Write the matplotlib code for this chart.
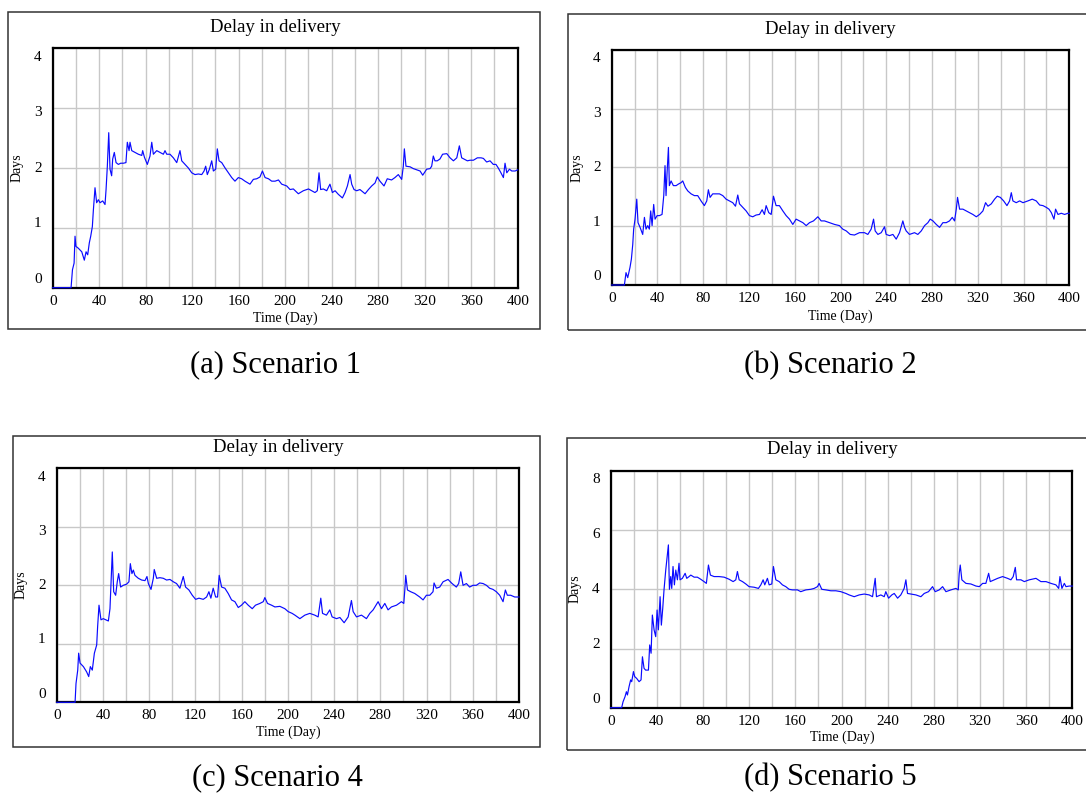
import matplotlib
matplotlib.use("Agg")
import matplotlib.pyplot as plt
from matplotlib.patches import Rectangle
from matplotlib.ticker import MultipleLocator

plt.rcParams['font.family'] = ['Liberation Serif', 'DejaVu Serif']

W, H = 1086, 797

# (day, delay in days)
s1_points = [
    (0, 0), (15.8, 0), (17, 0.3), (18.4, 0.41), (19.2, 0.86), (20, 0.69), (22, 0.66), (25, 0.6),
    (27.2, 0.46), (28.7, 0.6), (30.1, 0.55), (31.5, 0.75), (32.7, 0.86), (34.1, 1.02), (35, 1.3),
    (36.4, 1.67), (37.8, 1.42), (39.3, 1.47), (40.7, 1.42), (43, 1.45), (45, 1.39), (45.9, 1.64),
    (47, 2.03), (48.2, 2.59), (49.3, 1.98), (50.7, 1.87), (51.6, 2.15), (53, 2.26), (54.5, 2.09),
    (56.5, 2.06), (58.5, 2.08), (60.8, 2.08), (63, 2.09), (64.2, 2.43), (65.7, 2.29), (66.5, 2.43),
    (68, 2.29), (70.8, 2.26), (73.7, 2.23), (76.6, 2.21), (77.4, 2.29), (78.9, 2.18), (81.4, 2.06),
    (83.7, 2.2), (85.2, 2.43), (86.6, 2.23), (89.5, 2.29), (92.3, 2.26), (95.2, 2.23), (96.6, 2.29),
    (98.1, 2.23), (100.9, 2.23), (103.8, 2.17), (106.7, 2.09), (109.5, 2.29), (111, 2.12),
    (113.8, 2.06), (116.7, 2.0), (119.6, 1.92), (122.4, 1.89), (125.3, 1.9), (128.2, 1.89),
    (130.2, 1.95), (131.6, 2.03), (133, 1.89), (134.8, 1.98), (136.8, 2.12), (138.2, 1.95),
    (140.2, 1.98), (141.6, 2.32), (143.1, 2.12), (145.4, 2.09), (148.3, 2.0), (151.1, 1.92),
    (154, 1.84), (156.8, 1.78), (159.7, 1.84), (162.5, 1.82), (165.4, 1.78), (169.7, 1.73),
    (172.6, 1.81), (175.5, 1.82), (178.3, 1.85), (180.4, 1.95), (182.7, 1.84), (185.6, 1.82),
    (188.4, 1.78), (191.3, 1.78), (194.2, 1.8), (197, 1.73), (201.3, 1.7), (204.2, 1.64),
    (207, 1.65), (211.3, 1.57), (215.6, 1.62), (220, 1.65), (222.8, 1.62), (225.6, 1.59),
    (227.6, 1.62), (229.1, 1.92), (230.5, 1.64), (232.8, 1.65), (235.7, 1.62), (238.5, 1.73),
    (240.6, 1.59), (242.9, 1.62), (245.7, 1.56), (249.2, 1.5), (251.5, 1.59), (253.5, 1.7),
    (255.8, 1.89), (257.2, 1.73), (259.2, 1.64), (261.5, 1.62), (264.3, 1.64), (268.7, 1.57),
    (271.6, 1.64), (274.4, 1.7), (277.3, 1.75), (279.2, 1.85), (281.5, 1.78), (285, 1.7),
    (287.8, 1.82), (291.5, 1.8), (294.4, 1.84), (297.3, 1.89), (300.2, 1.81), (301.6, 2.03),
    (302.5, 2.32), (303.9, 2.03), (307.4, 2.02), (310.2, 1.99), (313.1, 1.97), (316, 1.95),
    (318.3, 1.88), (321.7, 1.98), (324.6, 1.99), (326, 2.03), (327.4, 2.2), (328.8, 2.12),
    (330.8, 2.12), (333.1, 2.15), (335.4, 2.23), (339, 2.24), (341.8, 2.17), (344.7, 2.12),
    (347.6, 2.17), (349.8, 2.37), (351.8, 2.17), (354.7, 2.14), (356.7, 2.12), (359, 2.13),
    (361.9, 2.13), (365.3, 2.17), (368.5, 2.17), (370.5, 2.16), (373.3, 2.1), (376.2, 2.12),
    (379, 2.06), (381.3, 2.06), (383.3, 2.0), (385.3, 1.93), (387.7, 1.84), (389.1, 2.08),
    (390.6, 1.92), (392.9, 1.98), (394.9, 1.95), (397.8, 1.95), (400, 1.97),
]

s2_points = [
    (0, 0), (11.1, 0), (12.5, 0.21), (14.0, 0.125), (16.0, 0.3), (17.2, 0.44), (18.4, 0.69),
    (19.2, 0.95), (20.4, 1.12), (21.9, 1.46), (23.0, 1.06), (24.8, 0.98), (27.1, 0.86), (28.6, 1.15),
    (30.0, 0.95), (31.5, 1.01), (32.9, 0.95), (34.1, 1.26), (35.3, 1.01), (36.7, 1.37), (37.9, 1.12),
    (39.7, 1.18), (41.7, 1.18), (44.0, 1.2), (45.5, 1.52), (46.6, 2.03), (47.5, 1.52), (48.4, 1.91),
    (49.6, 2.34), (50.4, 1.69), (51.9, 1.77), (53.9, 1.69), (56.3, 1.69), (58.6, 1.72), (60.6, 1.74),
    (62.1, 1.77), (64.4, 1.66), (66.5, 1.6), (69.4, 1.55), (72.3, 1.52), (75.2, 1.52), (78.1, 1.43),
    (81.0, 1.35), (83.1, 1.43), (84.5, 1.62), (86.0, 1.49), (88.3, 1.55), (91.3, 1.55), (94.2, 1.55),
    (97.1, 1.52), (100.0, 1.46), (102.9, 1.43), (105.8, 1.4), (108.2, 1.34), (110.2, 1.53),
    (111.7, 1.38), (114.6, 1.32), (117.5, 1.26), (120.4, 1.18), (123.3, 1.16), (126.2, 1.19),
    (129.2, 1.2), (131.5, 1.28), (133.5, 1.2), (135.0, 1.35), (137.3, 1.23), (139.4, 1.2),
    (141.4, 1.51), (143.7, 1.35), (146.6, 1.35), (149.6, 1.26), (152.5, 1.18), (155.4, 1.12),
    (158.3, 1.03), (161.2, 1.12), (164.1, 1.09), (167.1, 1.06), (170.0, 1.01), (172.9, 1.06),
    (176.4, 1.09), (180.2, 1.16), (183.1, 1.09), (186.0, 1.09), (190.4, 1.06), (194.8, 1.03),
    (199.1, 1.01), (202.0, 0.95), (205.0, 0.92), (208.5, 0.86), (212.2, 0.85), (216.6, 0.89),
    (221.0, 0.89), (223.9, 0.86), (226.8, 0.95), (228.9, 1.12), (230.3, 0.92), (232.7, 0.86),
    (235.6, 0.89), (238.5, 0.99), (239.9, 0.86), (242.9, 0.84), (245.8, 0.86), (248.7, 0.78),
    (251.6, 0.89), (254.5, 1.09), (256.0, 0.98), (257.4, 0.92), (260.3, 0.86), (264.7, 0.89),
    (267.6, 0.86), (270.6, 0.92), (273.5, 1.01), (276.4, 1.06), (278.4, 1.12), (280.8, 1.09),
    (283.7, 1.03), (286.6, 0.98), (289.5, 1.06), (292.4, 1.06), (295.3, 1.09), (297.7, 1.15),
    (299.7, 1.09), (301.2, 1.29), (302.3, 1.49), (304.1, 1.29), (307.0, 1.29), (309.9, 1.26),
    (312.8, 1.23), (315.7, 1.2), (318.7, 1.16), (321.6, 1.2), (324.5, 1.26), (326.8, 1.4),
    (328.9, 1.34), (331.8, 1.38), (334.7, 1.46), (337.0, 1.51), (339.7, 1.49), (342.6, 1.43),
    (345.5, 1.35), (347.8, 1.43), (349.3, 1.57), (350.7, 1.43), (353.6, 1.4), (356.6, 1.43),
    (359.5, 1.4), (363.8, 1.43), (367.6, 1.46), (371.1, 1.43), (374.1, 1.36), (377.0, 1.35),
    (379.9, 1.32), (382.2, 1.29), (384.3, 1.23), (386.6, 1.12), (388.0, 1.29), (390.1, 1.2),
    (393.0, 1.22), (395.9, 1.2), (398.8, 1.22), (400, 1.22),
]

s4_points = [
    (0, 0), (15.9, 0), (16.7, 0.32), (18.2, 0.55), (19.0, 0.84), (20.2, 0.67), (23.1, 0.61),
    (25.9, 0.52), (27.7, 0.44), (29.1, 0.61), (30.8, 0.55), (32.6, 0.84), (34.6, 0.98), (35.4, 1.29),
    (36.6, 1.66), (38.3, 1.41), (40.3, 1.43), (42.4, 1.41), (44.7, 1.39), (46.1, 1.6), (47.0, 2.03),
    (48.1, 2.57), (49.3, 1.89), (51.0, 1.83), (52.4, 2.06), (53.6, 2.2), (55.3, 1.97), (57.6, 2.0),
    (60.5, 2.02), (62.5, 2.06), (63.7, 2.37), (65.1, 2.2), (66.3, 2.26), (67.7, 2.17), (70.6, 2.12),
    (73.5, 2.09), (76.4, 2.08), (78.1, 2.15), (79.3, 2.03), (81.6, 1.93), (83.6, 2.12), (84.4, 2.27),
    (86.5, 2.12), (89.3, 2.13), (92.2, 2.12), (95.1, 2.09), (98.0, 2.1), (100.9, 2.06), (103.7, 2.03),
    (106.6, 1.95), (109.5, 2.15), (111.5, 1.97), (114.4, 1.92), (117.3, 1.83), (120.2, 1.76),
    (123.1, 1.78), (126.8, 1.76), (129.7, 1.8), (131.7, 1.89), (133.4, 1.78), (135.4, 1.95),
    (137.5, 1.8), (139.2, 1.8), (140.6, 2.17), (142.7, 1.97), (145.5, 1.95), (148.4, 1.86),
    (151.3, 1.75), (154.2, 1.72), (157.1, 1.62), (159.9, 1.66), (162.8, 1.72), (165.7, 1.66),
    (169.2, 1.6), (172.0, 1.66), (175.8, 1.69), (178.7, 1.72), (180.1, 1.79), (182.4, 1.69),
    (185.9, 1.66), (188.8, 1.63), (193.1, 1.64), (197.4, 1.6), (200.3, 1.55), (203.7, 1.52),
    (206.1, 1.49), (210.4, 1.43), (214.7, 1.49), (219.0, 1.52), (223.3, 1.49), (226.2, 1.46),
    (228.5, 1.78), (230.0, 1.52), (233.4, 1.49), (236.3, 1.58), (238.3, 1.46), (242.1, 1.43),
    (245.0, 1.45), (248.7, 1.36), (252.2, 1.46), (255.0, 1.74), (256.5, 1.55), (259.4, 1.46),
    (263.7, 1.49), (268.0, 1.43), (270.9, 1.52), (273.8, 1.58), (278.1, 1.72), (281.0, 1.6),
    (283.9, 1.69), (286.7, 1.58), (289.6, 1.63), (294.0, 1.66), (298.3, 1.72), (300.3, 1.69),
    (301.2, 1.92), (302.0, 2.17), (303.5, 1.92), (306.3, 1.89), (309.8, 1.86), (314.1, 1.8),
    (317.0, 1.75), (319.9, 1.83), (322.8, 1.83), (325.6, 1.89), (326.5, 2.04), (328.5, 1.95),
    (331.4, 1.97), (334.3, 2.06), (338.6, 2.1), (342.1, 2.03), (345.8, 1.97), (347.8, 2.03),
    (349.6, 2.23), (351.6, 2.0), (354.5, 2.03), (357.3, 1.97), (360.2, 2.0), (363.1, 2.0),
    (366.0, 2.04), (368.9, 2.03), (371.8, 2.0), (374.6, 1.95), (377.5, 1.93), (380.4, 1.89),
    (383.3, 1.83), (386.2, 1.72), (388.2, 1.92), (389.9, 1.83), (392.8, 1.83), (396.3, 1.8),
    (400, 1.8),
]

s5_points = [
    (0, 0), (9.5, 0), (10.7, 0.2), (12.4, 0.37), (13.6, 0.54), (14.5, 0.43), (15.9, 0.71),
    (17.3, 0.94), (18.2, 0.88), (19.7, 1.22), (20.8, 1.05), (22.5, 0.99), (24.6, 0.88), (26.3, 0.94),
    (27.5, 1.72), (28.9, 1.33), (30.3, 1.27), (32.7, 1.27), (33.8, 2.12), (35.0, 1.84), (36.1, 3.13),
    (37.6, 2.63), (39.0, 2.4), (40.2, 3.3), (41.3, 2.63), (42.8, 3.75), (43.9, 2.79), (45.1, 3.36),
    (46.2, 3.98), (47.7, 4.65), (48.8, 5.05), (50.0, 5.5), (50.9, 4.0), (52.0, 4.43), (52.9, 4.03),
    (54.0, 4.77), (55.2, 4.15), (56.4, 4.65), (57.8, 4.32), (59.2, 4.88), (60.1, 4.32), (62.1, 4.37),
    (64.5, 4.54), (65.9, 4.37), (67.9, 4.43), (69.4, 4.48), (72.3, 4.41), (75.1, 4.41), (78.0, 4.34),
    (80.9, 4.26), (82.9, 4.2), (84.7, 4.82), (86.4, 4.48), (89.6, 4.43), (93.9, 4.43), (98.3, 4.41),
    (102.6, 4.34), (106.1, 4.26), (108.4, 4.32), (109.8, 4.6), (111.3, 4.32), (114.2, 4.26),
    (117.1, 4.18), (119.9, 4.09), (124.3, 4.07), (128.0, 4.03), (130.1, 4.15), (132.1, 4.32),
    (133.5, 4.15), (135.8, 4.37), (137.3, 4.15), (139.6, 4.18), (141.0, 4.77), (143.1, 4.32),
    (146.0, 4.26), (148.8, 4.15), (151.7, 4.09), (154.6, 4.0), (157.5, 3.98), (161.8, 3.98),
    (164.7, 3.92), (169.1, 3.98), (173.4, 4.0), (176.3, 4.03), (179.2, 4.09), (180.6, 4.2),
    (182.9, 4.0), (186.4, 3.98), (190.8, 3.95), (195.1, 3.95), (199.4, 3.92), (203.8, 3.86),
    (206.6, 3.81), (211.0, 3.75), (215.3, 3.81), (219.7, 3.84), (224.0, 3.81), (226.9, 3.75),
    (229.2, 4.37), (230.3, 3.75), (234.1, 3.81), (237.0, 3.75), (238.4, 3.92), (240.8, 3.7),
    (243.6, 3.81), (245.7, 3.86), (248.6, 3.7), (251.4, 3.81), (254.3, 4.03), (255.8, 4.32),
    (257.2, 3.86), (260.1, 3.84), (264.5, 3.81), (268.8, 3.75), (271.7, 3.86), (275.4, 3.92),
    (278.9, 4.09), (281.2, 3.92), (284.7, 3.98), (287.6, 4.09), (290.5, 3.92), (294.8, 3.98),
    (299.1, 4.03), (301.2, 3.98), (302.0, 4.54), (302.9, 4.82), (304.3, 4.32), (307.8, 4.2),
    (312.1, 4.18), (316.5, 4.11), (319.4, 4.09), (322.3, 4.2), (325.1, 4.2), (327.5, 4.54),
    (328.9, 4.26), (332.4, 4.32), (335.3, 4.37), (339.6, 4.43), (343.9, 4.37), (346.8, 4.32),
    (348.8, 4.43), (350.6, 4.74), (351.7, 4.32), (355.5, 4.32), (358.4, 4.26), (362.7, 4.32),
    (368.5, 4.37), (372.8, 4.26), (377.2, 4.26), (381.5, 4.2), (385.8, 4.15), (388.2, 4.03),
    (389.3, 4.43), (391.0, 4.03), (393.1, 4.2), (394.5, 4.09), (397.4, 4.11), (400, 4.11),
]

series = [s1_points, s2_points, s4_points, s5_points]
captions = ["(a) Scenario 1", "(b) Scenario 2", "(c) Scenario 4", "(d) Scenario 5"]
y_max = [4, 4, 4, 8]
y_step = [1, 1, 1, 2]

# pixel layout: plot box (l, t, r, b), outer frame (l, t, r, b), title, ylabel, xlabel, caption
layout = [
    dict(ax=(52.7, 48.3, 517.7, 287.7), frame=(8.3, 12.3, 540, 329.3),
         title=(275, 28), ylab=(17.4, 168), xlab=(285, 318), cap=(276, 365)),
    dict(ax=(611.7, 49.8, 1069.3, 285), frame=(567.5, 14, 1095, 330),
         title=(830, 30), ylab=(577, 168), xlab=(840, 316), cap=(830, 366)),
    dict(ax=(56.7, 468.3, 519, 702.3), frame=(12.5, 435.7, 540, 746.7),
         title=(278, 448), ylab=(21.5, 585), xlab=(288, 732), cap=(277, 778)),
    dict(ax=(610.7, 470.9, 1072.3, 707.7), frame=(567.4, 438.3, 1095, 750),
         title=(832, 450), ylab=(575, 589), xlab=(842, 737), cap=(830, 778)),
]


def fx(x):
    return x / W


def fy(y):
    return 1 - y / H


fig = plt.figure(figsize=(W / 100, H / 100), dpi=100)

for pts, cap, ymax, ystep, lay in zip(series, captions, y_max, y_step, layout):
    l, t, r, b = lay["ax"]
    ax = fig.add_axes([fx(l), fy(b), (r - l) / W, (b - t) / H])
    days = [p[0] for p in pts]
    vals = [p[1] for p in pts]
    ax.plot(days, vals, color="#0a0aff", lw=0.85, zorder=3, clip_on=False)

    ax.set_xlim(0, 400)
    ax.set_ylim(0, ymax)
    ax.xaxis.set_major_locator(MultipleLocator(40))
    ax.xaxis.set_minor_locator(MultipleLocator(20))
    ax.yaxis.set_major_locator(MultipleLocator(ystep))
    ax.grid(True, which="both", axis="x", color="#c8c8c8", lw=1.0)
    ax.grid(True, which="major", axis="y", color="#c8c8c8", lw=1.0)
    ax.set_axisbelow(True)
    ax.tick_params(which="both", length=0)
    ax.tick_params(axis="x", labelsize=11, pad=5)
    ax.set_yticklabels([])
    for s in ax.spines.values():
        s.set_linewidth(1.6)
        s.set_color("black")

    # y labels spread Vensim-style inside the axis height
    yvals = list(range(0, ymax + 1, ystep))
    n = len(yvals)
    lo, hi = 0.035, 0.962
    for i, v in enumerate(yvals):
        ax.text(-15 / (r - l), lo + i * (hi - lo) / (n - 1), str(v),
                transform=ax.transAxes, ha="center", va="center", fontsize=11)

    fl, ft, fr, fb = lay["frame"]
    fig.add_artist(Rectangle((fx(fl), fy(fb)), (fr - fl) / W, (fb - ft) / H,
                             transform=fig.transFigure, fill=False,
                             edgecolor="#333333", lw=1.1, clip_on=False))

    fig.text(fx(lay["title"][0]), fy(lay["title"][1]), "Delay in delivery",
             ha="center", va="center", fontsize=13.5)
    fig.text(fx(lay["ylab"][0]), fy(lay["ylab"][1]), "Days", rotation=90,
             ha="center", va="center", fontsize=10)
    fig.text(fx(lay["xlab"][0]), fy(lay["xlab"][1]), "Time (Day)",
             ha="center", va="center", fontsize=10)
    fig.text(fx(lay["cap"][0]), fy(lay["cap"][1]), cap,
             ha="center", va="center", fontsize=22)

fig.savefig("out.png", dpi=100)
